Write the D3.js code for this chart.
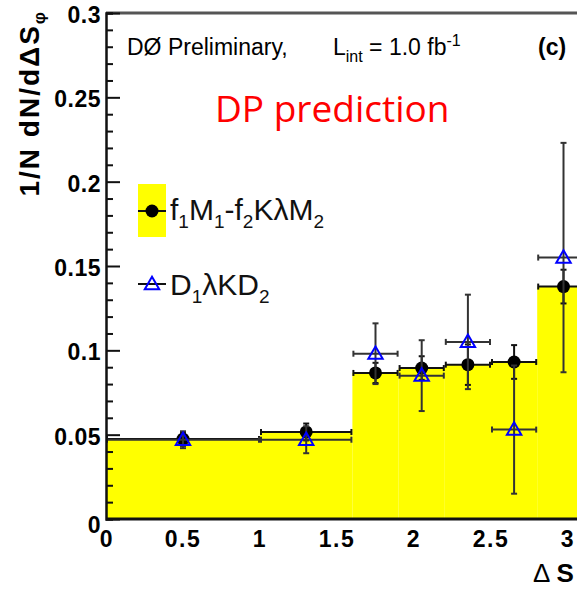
<!DOCTYPE html>
<html>
<head>
<meta charset="utf-8">
<script src="https://cdn.jsdelivr.net/npm/d3@7"></script>
<style>
  html, body { margin: 0; padding: 0; background: #fff; }
  svg { display: block; }
</style>
</head>
<body>
<svg id="chart" width="577" height="595"></svg>
<script>
// Bin edges in ΔS_φ and the normalised distribution per bin
const binEdges = [0, 1.0, 1.6, 1.9, 2.2, 2.5, 2.8, Math.PI];
const histValues = [0.0474, 0.0516, 0.0866, 0.0895, 0.0915, 0.0931, 0.1378];

// f1M1 - f2KλM2 prediction (filled circles)
const fmValues = [0.0474, 0.0516, 0.0866, 0.0895, 0.0915, 0.0931, 0.1378];
const fmErrors = [0.004, 0.005, 0.006, 0.007, 0.012, 0.010, 0.010];

// D1λKD2 prediction (open triangles)
const dkValues = [0.047, 0.047, 0.098, 0.085, 0.105, 0.053, 0.155];
const dkErrors = [0.005, 0.008, 0.018, 0.021, 0.028, 0.038, 0.068];

// Axis tick labels
const xTicks = [0, 0.5, 1, 1.5, 2, 2.5, 3];
const yTicks = [0, 0.05, 0.1, 0.15, 0.2, 0.25, 0.3];

const svg = d3.select("#chart");
const rootFont = "'Liberation Sans', Arial, Helvetica, sans-serif";

const x = d3.scaleLinear().domain([0, Math.PI]).range([106, 106 + Math.PI * 154]);
const y = d3.scaleLinear().domain([0, 0.3]).range([519, 13]);

const bins = histValues.map((v, i) => ({ x0: binEdges[i], x1: binEdges[i + 1], v }));
const centers = bins.map(b => (b.x0 + b.x1) / 2);

// Histogram
svg.append("g").selectAll("rect").data(bins).join("rect")
  .attr("x", d => x(d.x0))
  .attr("width", d => x(d.x1) - x(d.x0))
  .attr("y", d => y(d.v))
  .attr("height", d => y(0) - y(d.v))
  .attr("fill", "#ffff00");

// Error bars (horizontal = bin width, vertical = stat error) with end caps
function errorBars(g, vals, errs, color) {
  const cap = 3;
  vals.forEach((v, i) => {
    const cx = x(centers[i]), cy = y(v);
    const xl = x(bins[i].x0) + 1, xr = x(bins[i].x1) - 1;
    const yt = y(v + errs[i]), yb = y(v - errs[i]);
    const gg = g.append("g").attr("stroke", color).attr("stroke-width", 2).attr("fill", "none");
    gg.append("line").attr("x1", xl).attr("x2", xr).attr("y1", cy).attr("y2", cy);
    gg.append("line").attr("x1", xl).attr("x2", xl).attr("y1", cy - cap).attr("y2", cy + cap);
    gg.append("line").attr("x1", xr).attr("x2", xr).attr("y1", cy - cap).attr("y2", cy + cap);
    gg.append("line").attr("x1", cx).attr("x2", cx).attr("y1", yt).attr("y2", yb);
    gg.append("line").attr("x1", cx - cap).attr("x2", cx + cap).attr("y1", yt).attr("y2", yt);
    gg.append("line").attr("x1", cx - cap).attr("x2", cx + cap).attr("y1", yb).attr("y2", yb);
  });
}

const triPath = d3.symbol().type(d3.symbolTriangle).size(90);

const gFm = svg.append("g");
errorBars(gFm, fmValues, fmErrors, "#111");
gFm.selectAll("circle").data(fmValues).join("circle")
  .attr("cx", (d, i) => x(centers[i]))
  .attr("cy", d => y(d))
  .attr("r", 6.5)
  .attr("fill", "#000");

const gDk = svg.append("g");
errorBars(gDk, dkValues, dkErrors, "#333");
gDk.selectAll("path").data(dkValues).join("path")
  .attr("d", triPath)
  .attr("transform", (d, i) => `translate(${x(centers[i])},${y(d) + 1})`)
  .attr("fill", "none")
  .attr("stroke", "#0000ff")
  .attr("stroke-width", 2);

// Frame and axes
svg.append("line").attr("x1", 106).attr("x2", 577).attr("y1", y(0.3)).attr("y2", y(0.3))
  .attr("stroke", "#555").attr("stroke-width", 3);
svg.append("line").attr("x1", 106).attr("x2", 577).attr("y1", y(0)).attr("y2", y(0))
  .attr("stroke", "#111").attr("stroke-width", 3);

const yAxis = d3.axisRight(y).tickValues(d3.range(0, 0.3001, 0.01))
  .tickSize(7).tickFormat("");
const yAxisG = svg.append("g").attr("transform", "translate(106,0)").call(yAxis);
yAxisG.select(".domain").attr("stroke", "#111").attr("stroke-width", 2.5);
yAxisG.selectAll(".tick line").attr("stroke", "#111").attr("stroke-width", 2)
  .attr("x2", (d) => (Math.round(d * 100) % 5 === 0 ? 14 : 7));

// Tick labels
svg.append("g").selectAll("text").data(yTicks).join("text")
  .attr("x", 101)
  .attr("y", d => y(d) + (d === 0 ? 8 : 4))
  .attr("text-anchor", "end")
  .attr("dominant-baseline", "middle")
  .attr("font-family", rootFont).attr("font-weight", "bold").attr("font-size", 23)
  .attr("letter-spacing", 0.5)
  .text(d => d3.format("~g")(d));

svg.append("g").selectAll("text").data(xTicks).join("text")
  .attr("x", d => x(d) + (d === 0 ? 1 : 0))
  .attr("y", 547)
  .attr("text-anchor", "middle")
  .attr("font-family", rootFont).attr("font-weight", "bold").attr("font-size", 23)
  .attr("letter-spacing", 1.5)
  .text(d => d3.format("~g")(d));

// Axis titles
const yt = svg.append("text")
  .attr("transform", "translate(39,12) rotate(-90)")
  .attr("text-anchor", "end")
  .attr("font-family", rootFont).attr("font-weight", "bold").attr("font-size", 28)
  .attr("letter-spacing", 2);
yt.append("tspan").text("1/N dN/dΔS");
yt.append("tspan").attr("dy", 6).attr("font-size", 17).attr("letter-spacing", 0).text("φ");

const xt = svg.append("text").attr("x", 533).attr("y", 582)
  .attr("font-family", rootFont).attr("font-size", 26);
xt.append("tspan").text("Δ");
xt.append("tspan").attr("font-weight", "bold").attr("dx", 6).text("S");

// Header texts
svg.append("text").attr("x", 127).attr("y", 55)
  .attr("font-family", rootFont).attr("font-size", 23).text("DØ Preliminary,");
const lum = svg.append("text").attr("x", 333).attr("y", 55)
  .attr("font-family", rootFont).attr("font-size", 23);
lum.append("tspan").text("L");
lum.append("tspan").attr("dy", 7).attr("font-size", 16).text("int");
lum.append("tspan").attr("dy", -7).text(" = 1.0 fb");
lum.append("tspan").attr("dy", -9).attr("font-size", 16).text("-1");

svg.append("text").attr("x", 538).attr("y", 55)
  .attr("font-family", rootFont).attr("font-weight", "bold").attr("font-size", 23).text("(c)");

svg.append("text").attr("x", 215).attr("y", 122)
  .attr("font-family", "'Open Sans', sans-serif").attr("font-size", 37)
  .attr("fill", "#ff0000").text("DP prediction");

// Legend
const leg = svg.append("g");
leg.append("rect").attr("x", 138).attr("y", 184).attr("width", 28).attr("height", 53).attr("fill", "#ffff00");
leg.append("line").attr("x1", 138).attr("x2", 166).attr("y1", 211).attr("y2", 211)
  .attr("stroke", "#111").attr("stroke-width", 2);
leg.append("circle").attr("cx", 152).attr("cy", 211).attr("r", 6.5).attr("fill", "#000");
leg.append("line").attr("x1", 138).attr("x2", 166).attr("y1", 284).attr("y2", 284)
  .attr("stroke", "#111").attr("stroke-width", 2);
leg.append("path").attr("d", triPath).attr("transform", "translate(152,285)")
  .attr("fill", "none").attr("stroke", "#0000ff").attr("stroke-width", 2);

function labelWithSubs(parent, xPos, yPos, parts) {
  const t = parent.append("text").attr("x", xPos).attr("y", yPos)
    .attr("font-family", rootFont).attr("font-size", 30).attr("fill", "#111");
  parts.forEach(p => {
    const s = t.append("tspan").text(p.t);
    if (p.sub) s.attr("font-size", 19).attr("dy", 8);
    else if (p.back) s.attr("dy", -8);
  });
}
labelWithSubs(leg, 170, 220, [
  { t: "f" }, { t: "1", sub: true }, { t: "M", back: true }, { t: "1", sub: true },
  { t: "-f", back: true }, { t: "2", sub: true }, { t: "KλM", back: true }, { t: "2", sub: true }
]);
labelWithSubs(leg, 170, 295, [
  { t: "D" }, { t: "1", sub: true }, { t: "λKD", back: true }, { t: "2", sub: true }
]);
</script>
</body>
</html>
